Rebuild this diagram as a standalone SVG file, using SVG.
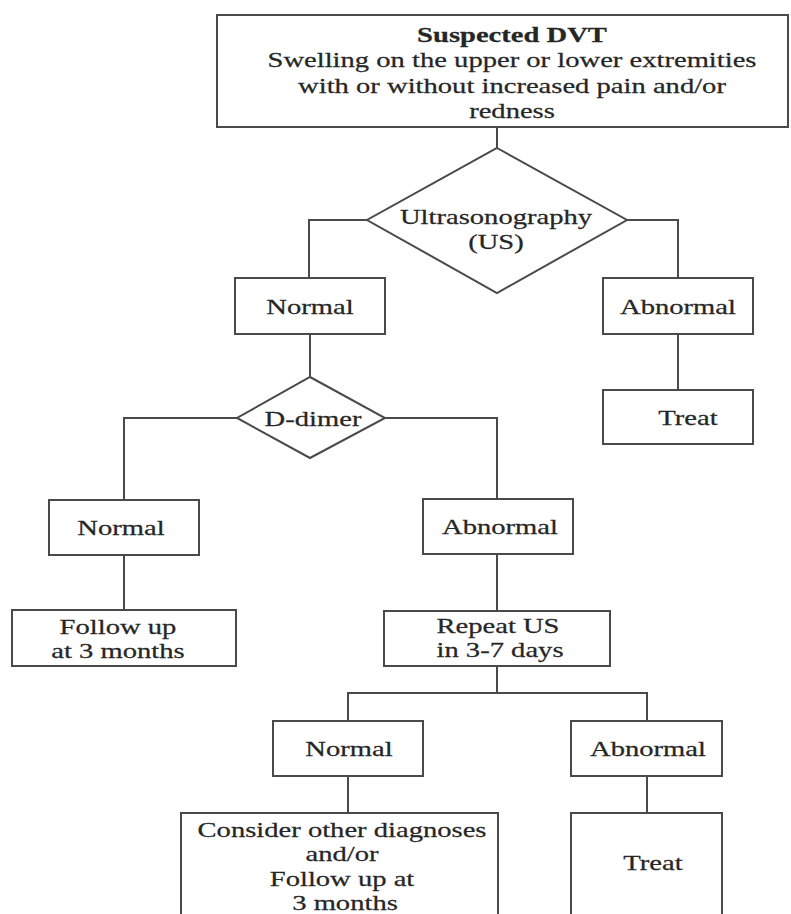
<svg xmlns="http://www.w3.org/2000/svg" width="791" height="914" viewBox="0 0 791 914">
<style>
.box{fill:#fff;stroke:#4a4a4a;stroke-width:2}
.ln{fill:none;stroke:#4a4a4a;stroke-width:2}
text{font-family:"Liberation Serif","Times New Roman",serif;font-size:22px;fill:#262626;stroke:#262626;stroke-width:0.25;text-anchor:middle}
.b{font-weight:bold}
</style>
<rect width="791" height="914" fill="#fff"/>
<g id="connectors">
<path class="ln" d="M497 127V148"/>
<path class="ln" d="M367 220H309V278"/>
<path class="ln" d="M627 220H678V278"/>
<path class="ln" d="M678 334V390"/>
<path class="ln" d="M310 334V377"/>
<path class="ln" d="M237 418H124V500"/>
<path class="ln" d="M385 418H497V500"/>
<path class="ln" d="M124 555V610"/>
<path class="ln" d="M497 554V611"/>
<path class="ln" d="M497 666V693"/>
<path class="ln" d="M348 721V693H647V721"/>
<path class="ln" d="M348 776V813"/>
<path class="ln" d="M647 776V813"/>
</g>
<g id="suspected">
<rect class="box" x="217" y="15" width="571" height="112"/>
<text class="b" transform="translate(512,42) scale(1.3,1)">Suspected DVT</text>
<text transform="translate(512,67) scale(1.3,1)">Swelling on the upper or lower extremities</text>
<text transform="translate(512,93) scale(1.3,1)">with or without increased pain and/or</text>
<text transform="translate(512,118) scale(1.3,1)">redness</text>
</g>
<g id="us">
<polygon class="box" points="497,148 627,220 497,293 367,220"/>
<text transform="translate(496,224) scale(1.3,1)">Ultrasonography</text>
<text transform="translate(496,249) scale(1.3,1)">(US)</text>
</g>
<g id="normal1">
<rect class="box" x="235" y="278" width="150" height="56"/>
<text transform="translate(310,314) scale(1.3,1)">Normal</text>
</g>
<g id="abnormal1">
<rect class="box" x="603" y="278" width="150" height="56"/>
<text transform="translate(678,314) scale(1.3,1)">Abnormal</text>
</g>
<g id="treat1">
<rect class="box" x="603" y="390" width="150" height="54"/>
<text transform="translate(688,425) scale(1.3,1)">Treat</text>
</g>
<g id="ddimer">
<polygon class="box" points="310,377 385,418 310,458 237,418"/>
<text transform="translate(313,426) scale(1.3,1)">D-dimer</text>
</g>
<g id="normal2">
<rect class="box" x="49" y="500" width="150" height="55"/>
<text transform="translate(121,535) scale(1.3,1)">Normal</text>
</g>
<g id="abnormal2">
<rect class="box" x="423" y="499" width="150" height="55"/>
<text transform="translate(500,534) scale(1.3,1)">Abnormal</text>
</g>
<g id="followup">
<rect class="box" x="12" y="610" width="224" height="56"/>
<text transform="translate(118,634) scale(1.3,1)">Follow up</text>
<text transform="translate(118,658) scale(1.3,1)">at 3 months</text>
</g>
<g id="repeat">
<rect class="box" x="384" y="611" width="226" height="55"/>
<text transform="translate(498,633) scale(1.3,1)">Repeat US</text>
<text transform="translate(500,657) scale(1.3,1)">in 3-7 days</text>
</g>
<g id="normal3">
<rect class="box" x="273" y="721" width="150" height="55"/>
<text transform="translate(349,756) scale(1.3,1)">Normal</text>
</g>
<g id="abnormal3">
<rect class="box" x="571" y="721" width="151" height="55"/>
<text transform="translate(648,756) scale(1.3,1)">Abnormal</text>
</g>
<g id="consider">
<rect class="box" x="181" y="813" width="317" height="110"/>
<text transform="translate(342,837) scale(1.3,1)">Consider other diagnoses</text>
<text transform="translate(342,861) scale(1.3,1)">and/or</text>
<text transform="translate(342,886) scale(1.3,1)">Follow up at</text>
<text transform="translate(345,910) scale(1.3,1)">3 months</text>
</g>
<g id="treat2">
<rect class="box" x="571" y="813" width="151" height="110"/>
<text transform="translate(653,870) scale(1.3,1)">Treat</text>
</g>
</svg>
